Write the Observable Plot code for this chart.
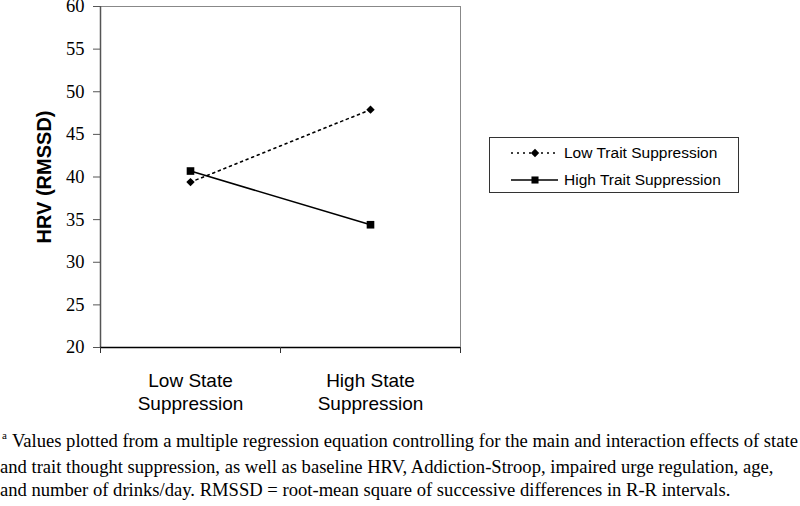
<!DOCTYPE html>
<html>
<head>
<meta charset="utf-8">
<script src="https://cdn.jsdelivr.net/npm/d3@7"></script>
<script src="https://cdn.jsdelivr.net/npm/@observablehq/plot@0.6"></script>
<style>
  html, body { margin: 0; padding: 0; background: #fff; }
  #wrap { position: relative; width: 800px; height: 506px; overflow: hidden; }
  #legend { position: absolute; left: 489px; top: 137px; width: 250px; height: 56px;
    border: 1px solid #333; box-sizing: border-box; font-family: "Liberation Sans", Arial, sans-serif;
    font-size: 15.5px; color: #000; }
  .lrow { position: absolute; left: 20px; height: 20px; display: flex; align-items: center; }
  .lrow svg { margin-right: 6px; }
  #caption { position: absolute; left: 0; top: 429px; font-family: "Liberation Serif", "Times New Roman", serif;
    font-size: 18.6px; line-height: 23px; color: #000; white-space: nowrap; }
  #caption sup { font-size: 11px; vertical-align: 0; position: relative; top: -8px; margin-left: 2px; margin-right: 5px; }
</style>
</head>
<body>
<div id="wrap">
  <div id="chart"></div>
  <div id="legend"></div>
  <div id="caption"><sup>a</sup>Values plotted from a multiple regression equation controlling for the main and interaction effects of state<br>and trait thought suppression, as well as baseline HRV, Addiction-Stroop, impaired urge regulation, age,<br>and number of drinks/day. RMSSD = root-mean square of successive differences in R-R intervals.</div>
</div>
<script>
// Data
const states = ["Low State\nSuppression", "High State\nSuppression"];
const series = ["Low Trait Suppression", "High Trait Suppression"];
const lowTrait = [39.4, 47.9];
const highTrait = [40.7, 34.4];
const yTicks = [20, 25, 30, 35, 40, 45, 50, 55, 60];
const yLabel = "HRV (RMSSD)";

const rows = [];
states.forEach((s, i) => {
  rows.push({series: series[0], state: s, pos: i + 0.5, value: lowTrait[i]});
  rows.push({series: series[1], state: s, pos: i + 0.5, value: highTrait[i]});
});
const low = rows.filter(d => d.series === series[0]);
const high = rows.filter(d => d.series === series[1]);
const stateRows = states.map((s, i) => ({state: s, pos: i + 0.5}));

const sans = "'Liberation Sans', Arial, sans-serif";
const serif = "'Liberation Serif', 'Times New Roman', serif";

const chart = Plot.plot({
  width: 800,
  height: 420,
  marginLeft: 100,
  marginRight: 340,
  marginTop: 6,
  marginBottom: 73,
  style: {"background": "#fff", "color": "#000", "overflow": "visible"},
  x: {domain: [0, states.length], axis: null},
  y: {domain: [20, 60], axis: null},
  marks: [
    Plot.frame({stroke: "#888", strokeWidth: 1}),
    Plot.axisY({ticks: yTicks, tickSize: 7, tickFormat: () => "", stroke: "#555", label: null}),
    Plot.text(yTicks, {y: d => d, text: d => String(d), frameAnchor: "left", textAnchor: "end", dx: -16,
      fontFamily: serif, fontSize: 18.5, fill: "#000", className: "ytick"}),
    Plot.text([yLabel], {frameAnchor: "left", textAnchor: "middle", rotate: -90, dx: -56, text: d => d,
      fontFamily: sans, fontWeight: "bold", fontSize: 20, fill: "#000"}),
    Plot.ruleX([0], {stroke: "#555", strokeWidth: 1.5}),
    Plot.ruleY([20], {stroke: "#000", strokeWidth: 1.5}),
    Plot.axisX({ticks: d3.range(states.length + 1), tickSize: 6, tickFormat: () => "", stroke: "#333", label: null}),
    Plot.text(stateRows, {x: "pos", text: "state", frameAnchor: "bottom", lineAnchor: "top", dy: 22,
      fontSize: 19, fontFamily: sans, lineHeight: 1.26, fill: "#000"}),
    Plot.line(low, {x: "pos", y: "value", stroke: "#000", strokeWidth: 1.6, strokeDasharray: "2,4"}),
    Plot.line(high, {x: "pos", y: "value", stroke: "#000", strokeWidth: 1.6}),
    Plot.dot(low, {x: "pos", y: "value", symbol: "diamond2", r: 3.8, fill: "#000"}),
    Plot.dot(high, {x: "pos", y: "value", symbol: "square", r: 4.3, fill: "#000"})
  ]
});
d3.select(chart).selectAll(".ytick, .ytick text").style("font-family", serif);
document.getElementById("chart").appendChild(chart);

// Legend
const legend = document.getElementById("legend");
const specs = [
  {label: series[0], dash: "2,4", sym: d3.symbolDiamond2, size: 45},
  {label: series[1], dash: null, sym: d3.symbolSquare, size: 50}
];
specs.forEach((s, i) => {
  const row = document.createElement("div");
  row.className = "lrow";
  row.style.top = (i === 0 ? 5 : 32) + "px";
  const svg = d3.create("svg").attr("width", 48).attr("height", 20);
  svg.append("line").attr("x1", 1).attr("x2", 48).attr("y1", 10).attr("y2", 10)
    .attr("stroke", "#000").attr("stroke-width", 1.4).attr("stroke-dasharray", s.dash);
  svg.append("path").attr("d", d3.symbol(s.sym, s.size)()).attr("transform", "translate(25,10)").attr("fill", "#000");
  row.appendChild(svg.node());
  const t = document.createElement("span");
  t.textContent = s.label;
  row.appendChild(t);
  legend.appendChild(row);
});
</script>
</body>
</html>
